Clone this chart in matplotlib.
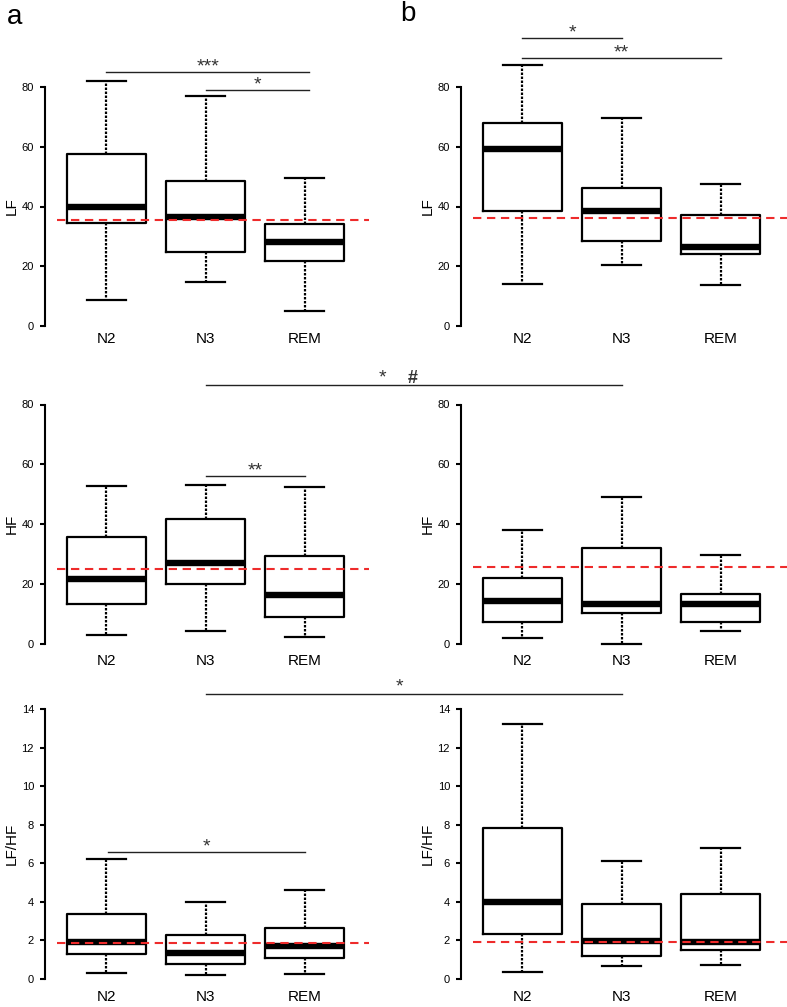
import matplotlib
matplotlib.use("Agg")
import matplotlib.pyplot as plt
from matplotlib.lines import Line2D

plt.rcParams['font.family'] = ['Liberation Sans', 'DejaVu Sans']

W, H = 787, 1007

stages = ['N2', 'N3', 'REM']

# five-number summaries per stage: [whisker low, q1, median, q3, whisker high]
lf_a = [[8.8, 34.5, 39.8, 57.7, 82.1],
        [14.7, 24.8, 36.5, 48.5, 77.0],
        [5.1, 21.7, 28.0, 34.3, 49.5]]
lf_b = [[13.9, 38.4, 59.2, 68.1, 87.4],
        [20.5, 28.6, 38.5, 46.1, 69.5],
        [13.6, 24.2, 26.6, 37.0, 47.5]]
hf_a = [[3.0, 13.5, 21.8, 35.6, 52.7],
        [4.2, 20.1, 27.2, 41.8, 53.2],
        [2.2, 9.1, 16.5, 29.5, 52.3]]
hf_b = [[1.9, 7.2, 14.5, 22.2, 38.0],
        [0.1, 10.2, 13.2, 32.2, 49.1],
        [4.2, 7.2, 13.2, 16.8, 29.8]]
ratio_a = [[0.31, 1.30, 1.94, 3.38, 6.24],
           [0.21, 0.80, 1.37, 2.27, 4.00],
           [0.26, 1.07, 1.70, 2.63, 4.59]]
ratio_b = [[0.36, 2.33, 4.01, 7.83, 13.22],
           [0.70, 1.17, 1.99, 3.90, 6.13],
           [0.74, 1.50, 1.90, 4.39, 6.79]]

# reference (dashed) levels
lf_ref = [35.5, 36.0]
hf_ref = [25.1, 25.7]
ratio_ref = [1.87, 1.90]

# within-panel significance bars: (from, to, height, label)
sig_lf_a = [(1, 3.05, 84.9, '***'), (2, 3.05, 79.0, '*')]
sig_lf_b = [(1, 2, 96.3, '*'), (1, 3, 89.7, '**')]
sig_hf_a = [(2, 3, 56.0, '**')]
sig_hf_b = []
sig_ratio_a = [(1.02, 3, 6.6, '*')]
sig_ratio_b = []

# between-panel bars (N3 in a to N3 in b)
cross_hf = (86.5, [(3.79, '*', 14, 'normal'), (4.09, '#', 13, 'bold')])
cross_ratio = (14.78, [(3.96, '*', 14, 'normal')])

rows = [
    ('LF', [lf_a, lf_b], lf_ref, [sig_lf_a, sig_lf_b], [0, 20, 40, 60, 80], (326, 87), 4.5),
    ('HF', [hf_a, hf_b], hf_ref, [sig_hf_a, sig_hf_b], [0, 20, 40, 60, 80], (644, 404.5), 7),
    ('LF/HF', [ratio_a, ratio_b], ratio_ref, [sig_ratio_a, sig_ratio_b],
     [0, 2, 4, 6, 8, 10, 12, 14], (979, 709), 8),
]

fig = plt.figure(figsize=(W / 100, H / 100), dpi=100)

red = '#ee2b2b'
ink = '#222222'
axes = []
for label, panels, refs, sigs, yticks, (p0, ptop), xpad in rows:
    row_axes = []
    for k, (stats5, ref, sig) in enumerate(zip(panels, refs, sigs)):
        left = 44.5 if k == 0 else 460.5
        ax = fig.add_axes([left / W, 1 - p0 / H, 322 / W, (p0 - ptop) / H])
        stats = [dict(whislo=s[0], q1=s[1], med=s[2], q3=s[3], whishi=s[4], label=n)
                 for s, n in zip(stats5, stages)]
        art = ax.bxp(stats, positions=[1, 2, 3], widths=0.8, capwidths=0.4,
                     showfliers=False,
                     boxprops=dict(color='black', linewidth=1.6),
                     medianprops=dict(color='black', linewidth=4.6, solid_capstyle='butt'),
                     whiskerprops=dict(color='black', linewidth=1.6, linestyle=(0, (1.1, 0.7))),
                     capprops=dict(color='black', linewidth=1.6))
        for group in art.values():
            for a in group:
                a.set_clip_on(False)
        x_end = 3.65 if k == 0 else 4.3
        ax.plot([0.5, x_end], [ref, ref], color=red, lw=1.5,
                linestyle=(0, (4, 2.7)), clip_on=False, zorder=5)
        for x1, x2, y, txt in sig:
            ax.plot([x1, x2], [y, y], color=ink, lw=1.0, clip_on=False)
            ax.annotate(txt, ((x1 + x2) / 2, y), xytext=(0, 0.5), textcoords='offset points',
                        ha='center', va='baseline', fontsize=14, color='#333333',
                        annotation_clip=False)
        ax.set_xlim(0.374, 3.626)
        ax.set_ylim(yticks[0], yticks[-1])
        ax.set_yticks(yticks)
        ax.set_xticks([1, 2, 3])
        ax.set_xticklabels(stages)
        for side in ['top', 'right', 'bottom']:
            ax.spines[side].set_visible(False)
        ax.spines['left'].set_linewidth(1.5)
        ax.tick_params(axis='y', length=3.5, width=1.5, labelsize=8, pad=4)
        ax.tick_params(axis='x', length=0, labelsize=11, pad=xpad)
        ax.set_ylabel(label, fontsize=11)
        ax.yaxis.set_label_coords(-0.08, 0.5)
        row_axes.append(ax)
    axes.append(row_axes)

# bars linking N3 of panel a to N3 of panel b
to_fig = fig.transFigure.inverted()
for row_idx, (y, marks) in [(1, cross_hf), (2, cross_ratio)]:
    axa, axb = axes[row_idx]
    xa, ya = to_fig.transform(axa.transData.transform((2, y)))
    xb, yb = to_fig.transform(axb.transData.transform((2, y)))
    fig.add_artist(Line2D([xa, xb], [ya, yb], color=ink, lw=1.0,
                          transform=fig.transFigure))
    for x, txt, fs, fw in marks:
        axa.annotate(txt, (x, y), xytext=(0, 1.5), textcoords='offset points',
                     ha='center', va='baseline', fontsize=fs, fontweight=fw,
                     color='#333333', annotation_clip=False)

fig.text(15 / W, 1 - 17 / H, 'a', fontsize=20, ha='center', va='center')
fig.text(408 / W, 1 - 14 / H, 'b', fontsize=20, ha='center', va='center')

fig.savefig('out.png', dpi=100, facecolor='white')
